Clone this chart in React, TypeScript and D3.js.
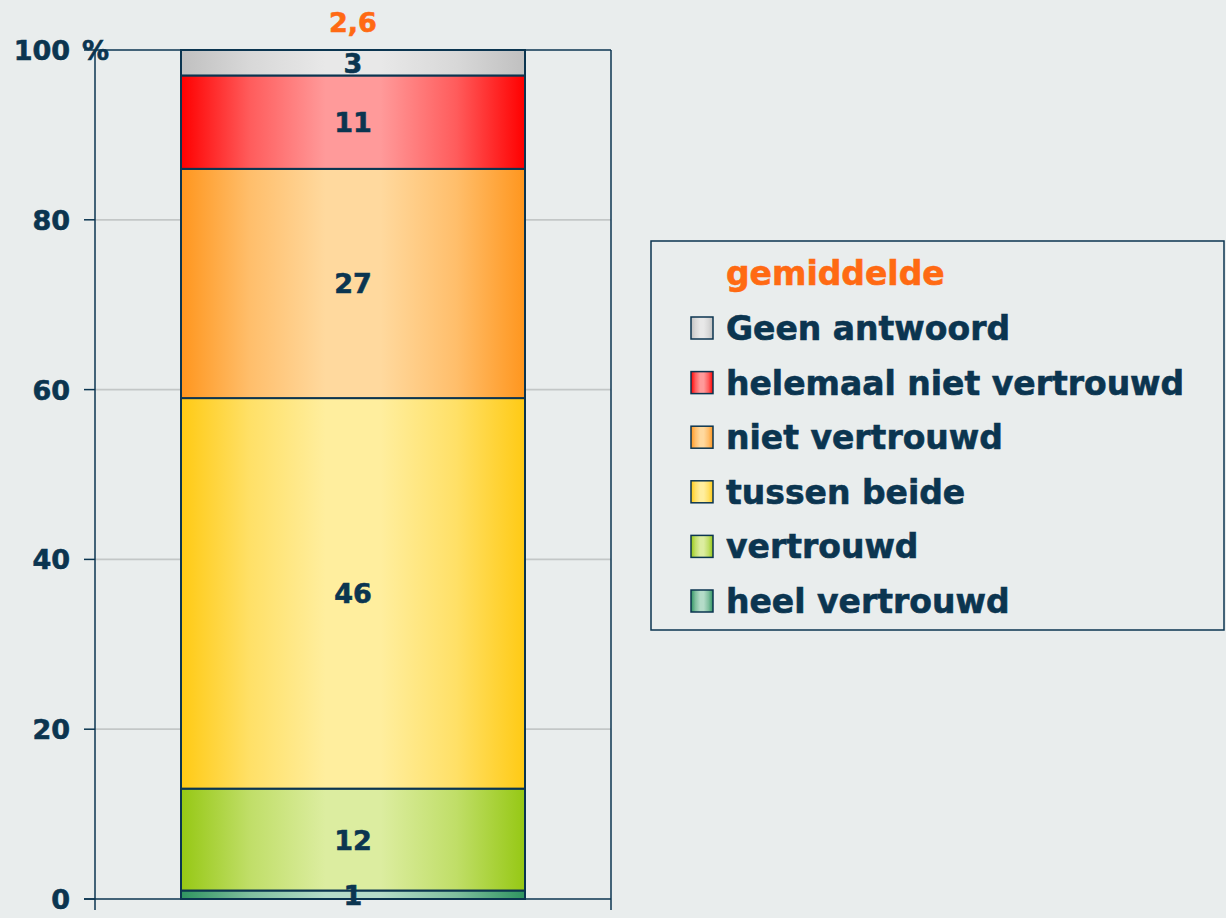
import React from 'react';
import * as d3 from 'd3';

// answer categories, bottom to top of the stack
const categories = ['heel vertrouwd', 'vertrouwd', 'tussen beide', 'niet vertrouwd', 'helemaal niet vertrouwd', 'Geen antwoord'];
const values = [1, 12, 46, 27, 11, 3];
const edgeColors = ['#2f9460', '#96c814', '#ffca14', '#ff961e', '#ff0000', '#c0c0c0'];
const lightColors = ['#b4dcc8', '#dcedA0', '#ffee9e', '#ffd99e', '#ff9a9a', '#e8e8e8'];
const yTicks = [0, 20, 40, 60, 80, 100];
const meanLabel = '2,6';
const legendTitle = 'gemiddelde';

const W = 1226;
const H = 918;
const navy = '#0b3550';
const orange = '#ff6a13';
const font = '"DejaVu Sans", Verdana, sans-serif';

const App = () => {
  const y = d3.scaleLinear().domain([0, 100]).range([899, 50]);
  const x = d3.scaleBand().domain(['all']).range([95, 611]).paddingInner(0).paddingOuter(0.25);

  const row: Record<string, number> = { key: 0 } as any;
  categories.forEach((c, i) => { row[c] = values[i]; });
  const stacked = d3.stack<any>().keys(categories)([row]);

  const bx = x('all') as number;
  const bw = x.bandwidth();
  const cx = bx + bw / 2;

  const legendRows = categories.slice().reverse();
  const txt = { fontFamily: font, fontWeight: 'bold' as const, stroke: navy, strokeWidth: 0.6, fill: navy };

  return (
    <svg width={W} height={H} style={{ position: 'absolute', left: 0, top: 0, background: '#e9eded' }}>
      <defs>
        {categories.map((c, i) => {
          const mid = d3.interpolateRgb(edgeColors[i], lightColors[i]);
          return (
            <linearGradient key={c} id={`g${i}`} x1="0" x2="1" y1="0" y2="0">
              <stop offset="0" stopColor={edgeColors[i]} />
              <stop offset="0.2" stopColor={mid(0.6)} />
              <stop offset="0.42" stopColor={lightColors[i]} />
              <stop offset="0.58" stopColor={lightColors[i]} />
              <stop offset="0.8" stopColor={mid(0.6)} />
              <stop offset="1" stopColor={edgeColors[i]} />
            </linearGradient>
          );
        })}
      </defs>
      <rect width={W} height={H} fill="#e9eded" />

      {/* gridlines */}
      {yTicks.filter(t => t > 0 && t < 100).map(t => (
        <line key={t} x1={95} x2={611} y1={y(t)} y2={y(t)} stroke="#c3c7c7" strokeWidth={1.8} />
      ))}
      {yTicks.map(t => (
        <line key={`t${t}`} x1={84} x2={95} y1={y(t)} y2={y(t)} stroke={navy} strokeWidth={1.5} />
      ))}

      {/* plot frame */}
      <line x1={95} x2={611} y1={y(100)} y2={y(100)} stroke={navy} strokeWidth={1.5} />
      <line x1={611} x2={611} y1={y(100)} y2={910} stroke={navy} strokeWidth={1.5} />
      <line x1={95} x2={95} y1={y(100)} y2={910} stroke={navy} strokeWidth={1.5} />
      <line x1={84} x2={611} y1={y(0)} y2={y(0)} stroke={navy} strokeWidth={1.5} />

      {/* y tick labels */}
      {yTicks.map(t => (
        <text key={t} x={70} y={y(t) + 10} textAnchor="end" fontSize={27} {...txt}>
          {t}
        </text>
      ))}
      <text x={82} y={y(100) + 10} fontSize={27} {...txt}>%</text>

      {/* stacked bar */}
      {stacked.map((s, i) => {
        const d = s[0];
        const y0 = y(d[0]);
        const y1 = y(d[1]);
        return (
          <rect key={s.key} x={bx} y={y1} width={bw} height={y0 - y1} fill={`url(#g${i})`} stroke={navy} strokeWidth={2} />
        );
      })}
      {stacked.map((s, i) => {
        const d = s[0];
        return (
          <text key={s.key} x={cx} y={(y(d[0]) + y(d[1])) / 2 + 10} textAnchor="middle" fontSize={27} {...txt}>
            {values[i]}
          </text>
        );
      })}
      <text x={cx} y={32} textAnchor="middle" fontSize={27} {...txt} fill={orange} stroke={orange}>{meanLabel}</text>

      {/* legend */}
      <rect x={651} y={241} width={573} height={389} fill="none" stroke={navy} strokeWidth={1.5} />
      <text x={726} y={285} fontSize={33} {...txt} fill={orange} stroke={orange}>{legendTitle}</text>
      {legendRows.map((c, j) => {
        const i = categories.indexOf(c);
        const cy = 328 + j * 54.6;
        return (
          <g key={c}>
            <rect x={691} y={cy - 11} width={22} height={22} fill={`url(#g${i})`} stroke={navy} strokeWidth={1.5} />
            <text x={726} y={cy + 12} fontSize={33} {...txt}>{c}</text>
          </g>
        );
      })}
    </svg>
  );
};

export default App;
